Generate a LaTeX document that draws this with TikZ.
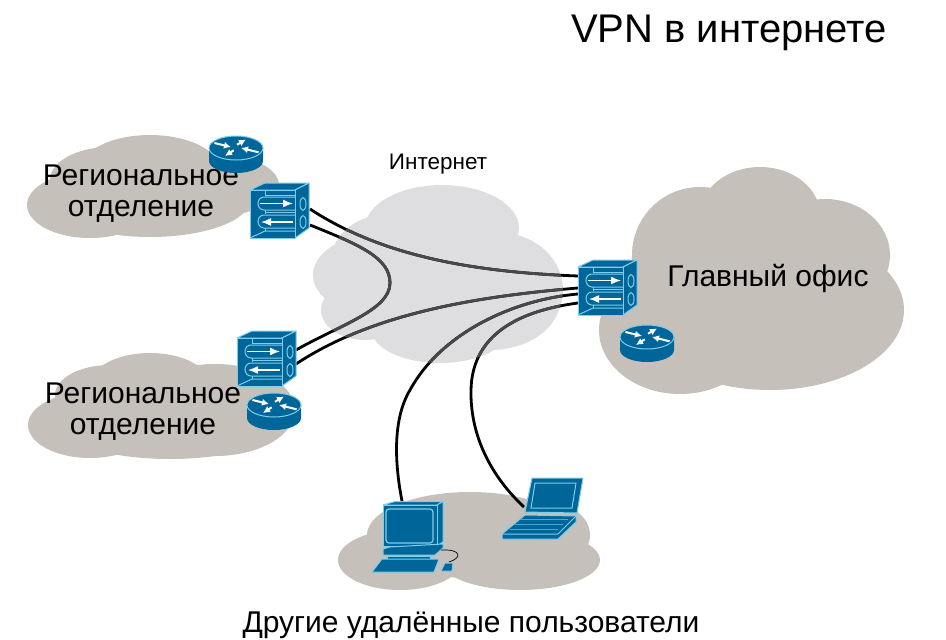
\documentclass[tikz,border=0pt]{standalone}
\usepackage{fontspec}
\setmainfont{Liberation Sans}
\usetikzlibrary{arrows.meta}
\definecolor{devblue}{RGB}{0,102,153}
\definecolor{devedge}{RGB}{125,205,235}
\definecolor{cloudgray}{RGB}{197,192,186}
\definecolor{netgray}{RGB}{222,222,224}
\definecolor{linegray}{RGB}{72,72,72}
\newcommand{\netcloud}{
  (442,228) ellipse [x radius=77, y radius=43]
  (375,275) ellipse [x radius=62, y radius=40]
  (395,255) ellipse [x radius=62, y radius=42]
  (500,290) ellipse [x radius=63, y radius=57]
  (365,310) ellipse [x radius=44, y radius=30]
  (440,330) ellipse [x radius=68, y radius=33]
  (490,300) ellipse [x radius=70, y radius=50]
}
\newcommand{\vpnlines}{
  (fwa-p) .. controls (380,255) and (470,272) .. (fwm-a)
  (fwa-q) .. controls (360,245) and (390,258) .. (turn) .. controls (390,310) and (340,325) .. (fwb-p)
  (fwb-q) .. controls (370,315) and (470,297) .. (fwm-b)
  (pc) .. controls (395,465) and (392,420) .. (pcbend) .. controls (440,335) and (510,300) .. (fwm-c)
  (laptop) .. controls (495,480) and (470,440) .. (lapbend) .. controls (472,340) and (510,312) .. (fwm-d)
}
\tikzset{
  devbody/.style={fill=devblue, draw=devedge, line width=1pt, line join=round},
  devthin/.style={draw=devedge, line width=1pt},
  whitearrow/.style={draw=white, line width=2pt, -{Latex[length=7pt,width=7pt]}},
  pipearrow/.style={draw=white, line width=1.5pt, -{Latex[length=10pt,width=8pt]}},
  vpnline/.style={line width=2.8pt},
  label/.style={inner sep=0pt, align=center, font=\fontsize{30}{31}\selectfont},
  router/.pic={
    \fill[devblue] (-27,0) -- (-27,13) arc [start angle=180, end angle=0, x radius=27, y radius=12] -- (27,0) -- cycle;
    \draw[devbody] (0,0) ellipse [x radius=27, y radius=12];
    \draw[whitearrow] (-21.6,-5) -- (-5,-1);
    \draw[whitearrow] (1,-3.3) -- (10,-8.5);
    \draw[whitearrow] (-2.3,2.3) -- (-11,8);
    \draw[whitearrow] (22.6,4.3) -- (5,0);
  },
  firewall/.pic={
    \draw[devbody] (0,0) -- (15,-7) -- (59,-7) -- (45,0) -- cycle;
    \draw[devbody] (45,0) -- (59,-7) -- (59,38) -- (45,48) -- cycle;
    \draw[devbody] (0,0) rectangle (45,48);
    \draw[devthin] (15,0) -- (15,6) (15,20) -- (15,24) (15,38) -- (15,41);
    \draw[devthin] (0,48) -- (15,41) -- (45,41);
    \draw[devthin] (15,5) -- (45,5);
    \draw[devthin] (45,7) -- (14,7) arc [start angle=-90, end angle=-270, x radius=6, y radius=6.5] -- (45,20);
    \draw[devthin] (15,22) -- (45,22);
    \draw[devthin] (45,25) -- (14,25) arc [start angle=-90, end angle=-270, x radius=6, y radius=6.5] -- (45,38);
    \draw[pipearrow] (10,13.5) -- (43,13.5);
    \draw[pipearrow] (43,32) -- (11,32);
    \draw[devthin] (53,14) ellipse [x radius=3, y radius=6.5];
    \draw[devthin] (53,32) ellipse [x radius=3, y radius=6.5];
  },
}
\begin{document}
\begin{tikzpicture}[x=1pt,y=-1pt]
  \useasboundingbox (0,0) rectangle (946,640);

  \coordinate (fwa-p) at (310,209);
  \coordinate (fwa-q) at (310,225);
  \coordinate (fwb-p) at (296,350);
  \coordinate (fwb-q) at (296,364);
  \coordinate (fwm-a) at (578,276);
  \coordinate (fwm-b) at (578,288);
  \coordinate (fwm-c) at (578,294);
  \coordinate (fwm-d) at (578,303);
  \coordinate (turn) at (390,283);
  \coordinate (pc) at (402,501);
  \coordinate (pcbend) at (410,390);
  \coordinate (laptop) at (524,507);
  \coordinate (lapbend) at (471,390);

  % clouds
  \fill[cloudgray] (110,180) ellipse [x radius=60, y radius=33]
    (150,170) ellipse [x radius=70, y radius=35]
    (90,205) ellipse [x radius=63, y radius=33]
    (150,200) ellipse [x radius=100, y radius=37]
    (205,185) ellipse [x radius=74, y radius=33];
  \fill[cloudgray] (110,395) ellipse [x radius=55, y radius=30]
    (150,385) ellipse [x radius=60, y radius=32]
    (90,425) ellipse [x radius=62, y radius=33]
    (170,425) ellipse [x radius=110, y radius=34]
    (215,410) ellipse [x radius=80, y radius=46];
  \fill[cloudgray] (700,255) ellipse [x radius=68, y radius=68]
    (760,215) ellipse [x radius=60, y radius=48]
    (825,255) ellipse [x radius=65, y radius=56]
    (770,310) ellipse [x radius=134, y radius=80]
    (680,330) ellipse [x radius=81, y radius=64];
  \fill[cloudgray] (470,535) ellipse [x radius=103, y radius=43]
    (420,545) ellipse [x radius=53, y radius=35]
    (400,560) ellipse [x radius=62, y radius=30]
    (540,535) ellipse [x radius=50, y radius=35]
    (520,560) ellipse [x radius=80, y radius=30];
  \fill[netgray] \netcloud;

  \draw[vpnline, black] \vpnlines;
  \begin{scope}
    \clip \netcloud;
    \draw[vpnline, linegray] \vpnlines;
  \end{scope}

  \node[label, font=\fontsize{40}{44}\selectfont] (title) at (729,33) {VPN в интернете};
  \node[label, font=\fontsize{22.5}{26}\selectfont] (netlabel) at (438,164) {Интернет};
  \node[label] (regiona) at (141,194) {Региональное\\отделение};
  \node[label] (regionb) at (143,412) {Региональное\\отделение};
  \node[label] (office) at (768,278) {Главный офис};
  \node[label] (users) at (471,625) {Другие удалённые пользователи};

  \pic (fwa) at (250,190) {firewall};
  \pic (fwb) at (237,338) {firewall};
  \pic (fwm) at (578,267) {firewall};
  \pic (rta) at (236,148) {router};
  \pic (rtb) at (274,405) {router};
  \pic (rtm) at (647,337) {router};

  % desktop
  \draw[devbody] (383,505) -- (395,501.5) -- (443,501.5) -- (437,505) -- cycle;
  \draw[devbody] (437,505) -- (443,501.5) -- (443,542) -- (437,546) -- cycle;
  \draw[devbody] (383,505) rectangle (437,546);
  \draw[devthin, rounded corners=3pt, line width=1.2pt] (386,509) rectangle (433,543);
  \draw[devbody] (383,549) -- (390,547) -- (443,544) -- (443,548) -- (435,555) -- (383,555) -- cycle;
  \draw[devbody] (387,556) -- (430,556) -- (430,559) -- (387,559) -- cycle;
  \draw[devbody] (372,572) -- (382,559) -- (439,559) -- (434,572) -- cycle;
  \draw[devbody] (441,571) -- (445,563) -- (453,563) -- (452,571) -- cycle;
  \draw[black, line width=0.7pt] (441,550) .. controls (462,549) and (462,558) .. (449,562);

  % laptop
  \draw[devbody] (525,512) -- (532,478) -- (583,478) -- (577,513) -- cycle;
  \draw[devthin] (531,508) -- (535,483) -- (576,483) -- (572,508) -- cycle;
  \draw[devbody] (502,534) -- (525,515) -- (576,516) -- (576,522) -- (558,539) -- (502,539) -- cycle;
  \draw[devthin] (502,534) -- (558,534) -- (576,516);
  \foreach \i in {0,1,2}
    \draw[devedge!60!devblue, line width=0.5pt] (520-\i*5,519+\i*5) -- (568-\i*5,519+\i*5);
\end{tikzpicture}
\end{document}
